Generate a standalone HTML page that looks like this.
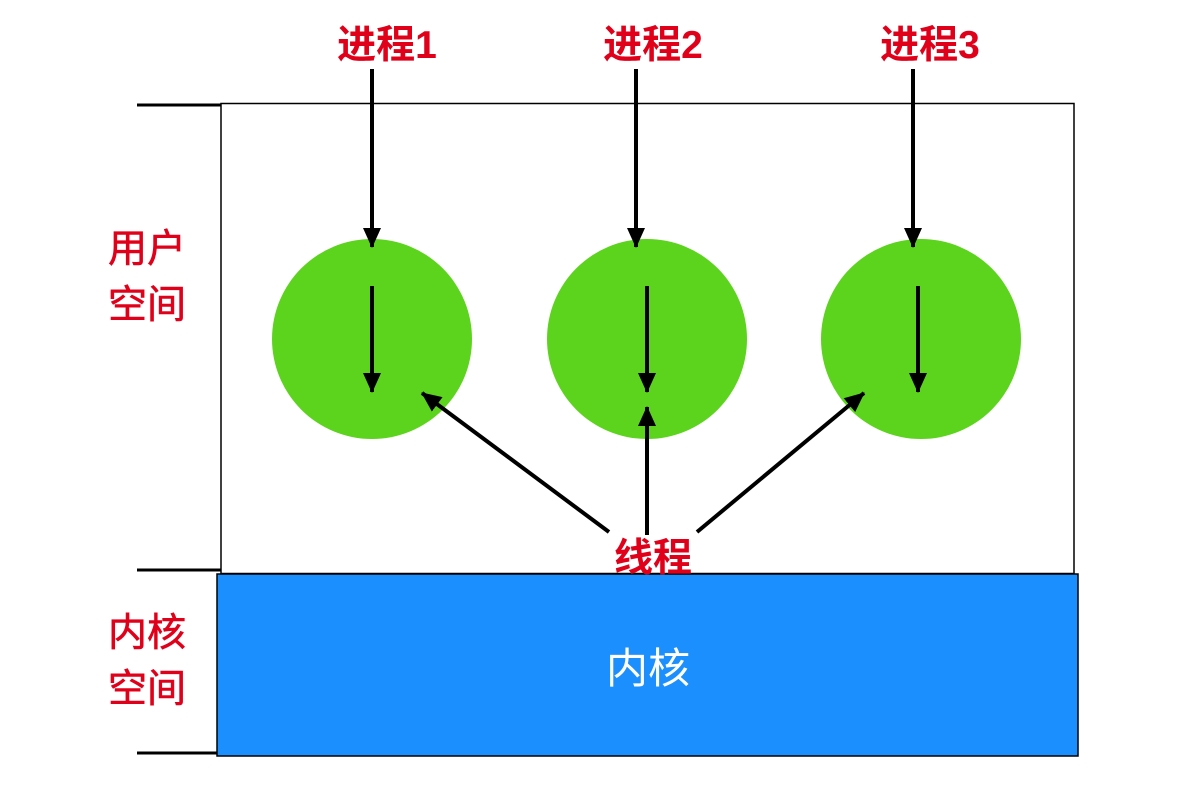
<!DOCTYPE html>
<html><head><meta charset="utf-8"><style>
html,body{margin:0;padding:0;background:#fff;width:1180px;height:788px;overflow:hidden}
text{font-family:"Liberation Sans","Noto Sans CJK SC",sans-serif}
</style></head><body>
<svg width="1180" height="788" viewBox="0 0 1180 788" xmlns="http://www.w3.org/2000/svg">
<defs>
<marker id="b" markerWidth="20" markerHeight="18" refX="19" refY="9" orient="auto" markerUnits="userSpaceOnUse">
<path d="M0,0 L20,9 L0,18 z" fill="#000"/>
</marker>
</defs>
<rect x="221" y="103.5" width="853" height="470" fill="#fff" stroke="#000" stroke-width="1.5"/>
<rect x="217" y="574" width="861" height="182" fill="#1c8fff" stroke="#000" stroke-width="1.5"/>
<line x1="137" y1="105" x2="221" y2="105" stroke="#000" stroke-width="3"/>
<line x1="137" y1="570" x2="221" y2="570" stroke="#000" stroke-width="3"/>
<line x1="137" y1="753" x2="217" y2="753" stroke="#000" stroke-width="3"/>
<circle cx="372" cy="339" r="100" fill="#5cd41d"/>
<circle cx="647" cy="339" r="100" fill="#5cd41d"/>
<circle cx="921" cy="339" r="100" fill="#5cd41d"/>
<g stroke="#000" stroke-width="4" marker-end="url(#b)">
<line x1="372" y1="69" x2="372" y2="247"/>
<line x1="636" y1="69" x2="636" y2="247"/>
<line x1="913" y1="69" x2="913" y2="247"/>
<line x1="372" y1="286" x2="372" y2="392"/>
<line x1="647" y1="286" x2="647" y2="392"/>
<line x1="918" y1="286" x2="918" y2="392"/>
<line x1="609" y1="532" x2="422" y2="393"/>
<line x1="647" y1="535" x2="647" y2="407"/>
<line x1="697" y1="532" x2="864" y2="393"/>
</g>
<g fill="#e0001a" font-weight="bold" font-size="39" text-anchor="middle">
<text x="387" y="58">进程1</text>
<text x="653" y="58">进程2</text>
<text x="930" y="58">进程3</text>
<text x="653" y="571">线程</text>
</g>
<g fill="#e0001a" font-size="39" stroke="#e0001a" stroke-width="0.6">
<text x="108" y="262">用户</text>
<text x="108" y="318">空间</text>
<text x="108" y="646">内核</text>
<text x="108" y="702">空间</text>
</g>
<text x="648" y="683" fill="#fff" font-size="42" text-anchor="middle">内核</text>
</svg>
</body></html>
